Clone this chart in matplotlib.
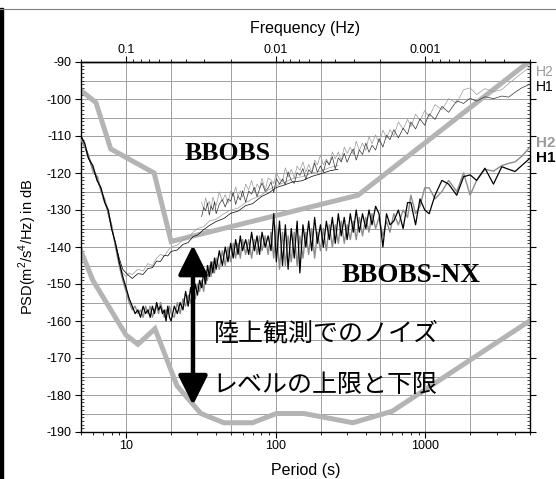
import matplotlib
matplotlib.use("Agg")
import matplotlib.pyplot as plt
import numpy as np
from matplotlib.lines import Line2D
from matplotlib.patches import Rectangle
from matplotlib.ticker import FixedLocator, MultipleLocator, NullFormatter, LogLocator

plt.rcParams['font.family'] = ['Liberation Sans', 'DejaVu Sans']
plt.rcParams['axes.unicode_minus'] = False
plt.rcParams['mathtext.fontset'] = 'custom'
plt.rcParams['mathtext.rm'] = 'Liberation Sans'

# Peterson high / low noise models
nhnm_per = [5, 6.3, 7.9, 15.4, 20, 354.8, 5000]
nhnm_db = [-97.7, -101.0, -113.5, -120.0, -138.5, -126.0, -89.7]
nlnm_per = [5, 6, 10, 12, 15.6, 21.9, 31.6, 45, 70, 101, 154, 328, 600, 5000]
nlnm_db = [-141.1, -149.0, -163.8, -166.3, -162.1, -177.5, -185.0, -187.5,
           -187.5, -185.0, -185.0, -187.5, -184.4, -159.9]

# short-period part of the BBOBS-NX spectra
per_sp = [5, 5.3, 5.6, 6, 6.4, 6.8, 7.2, 7.6, 8, 8.5, 9, 9.5, 10,
          10.5, 11, 11.5, 12, 12.5, 13, 13.5, 14, 14.5, 15, 15.5, 16, 16.5,
          17, 17.5, 18, 18.5, 19, 19.5, 20, 21, 22, 23, 24, 25, 26, 27, 28,
          29, 30, 31]
nx_h1_sp = [-110, -112, -116, -118, -122, -124, -128, -130, -135, -139, -144,
            -148, -151, -154, -156, -158, -157, -159, -156, -158, -157, -159,
            -156, -158, -155, -157, -156, -158, -157, -160, -156, -159, -160,
            -156, -158, -155, -157, -152, -156, -151, -155, -150, -153, -149]
nx_h2_sp = [-111, -113, -115, -119, -121, -125, -127, -131, -134, -140, -145,
            -149, -152, -155, -157, -156, -158, -157, -159, -156, -158, -156,
            -159, -157, -156, -158, -155, -157, -159, -157, -158, -156, -158,
            -159, -155, -158, -154, -156, -153, -155, -152, -154, -150, -152]

# long-period part (shared period grid)
per_lp = [32, 33, 34, 35, 36, 37, 38, 39, 40, 42, 44, 46, 48, 50, 52, 54, 56,
          58, 60, 63, 66, 69, 72, 75, 78, 81, 85, 89, 93, 97, 101, 106, 111,
          116, 121, 127, 133, 139, 145, 152, 159, 166, 174, 182, 190, 199, 208,
          218, 228, 239, 250, 262, 274, 287, 300, 315, 330, 345, 362, 380, 400,
          420, 440, 465, 490, 520, 550, 580, 615, 660, 710, 760, 800, 860, 920,
          990, 1060, 1160, 1290, 1430, 1620, 1800, 1990, 2200, 2500, 2850,
          3240, 3600, 3970, 4400, 5000]
nx_h1_lp = [-151, -147, -150, -145, -148, -144, -147, -143, -146, -141, -145,
            -140, -144, -139, -143, -138, -142, -137, -141, -138, -142, -136,
            -141, -137, -142, -136, -140, -137, -141, -131, -144, -133, -145,
            -134, -146, -135, -143, -133, -147, -134, -140, -133, -141, -132,
            -139, -134, -140, -133, -138, -132, -139, -131, -137, -132, -138,
            -131, -136, -130, -136, -131, -135, -130, -134, -129, -131, -140,
            -131, -134, -133, -130, -135, -128, -128, -134, -127, -130, -131,
            -126, -122, -123, -126, -121, -120.5, -122, -118.7, -123, -118.3,
            -119, -119.6, -118, -116]
nx_h2_lp = [-149, -152, -147, -149, -145, -148, -144, -147, -143, -146, -141,
            -145, -140, -144, -139, -143, -139, -143, -138, -142, -138, -143,
            -138, -142, -137, -141, -137, -142, -136, -143, -134, -146, -136,
            -145, -137, -144, -136, -145, -137, -143, -136, -142, -135, -143,
            -136, -141, -135, -141, -134, -140, -134, -139, -133, -139, -134,
            -138, -133, -138, -132, -137, -132, -136, -131, -135, -132, -137,
            -133, -136, -131, -134, -130, -132, -126, -131, -129, -124, -124,
            -127, -125, -122, -125, -120, -126, -122, -119, -119.5, -118,
            -117.4, -117, -115.5, -113]
bb_h1_lp = [-131.8, -129.3, -130.2, -128.1, -131.4, -128.9, -130.0, -127.8,
            -131.0, -128.4, -127.2, -129.2, -127.0, -127.6, -125.3, -128.5,
            -126.3, -127.3, -124.8, -127.9, -124.9, -125.7, -123.9, -126.4,
            -124.3, -122.7, -125.0, -124.1, -122.4, -125.3, -121.5, -123.0,
            -121.6, -123.2, -119.7, -122.0, -122.8, -119.9, -120.6, -118.8,
            -121.8, -119.1, -120.1, -117.3, -119.8, -118.1, -119.7, -116.7,
            -117.8, -115.6, -118.9, -115.9, -117.0, -114.7, -117.1, -115.0,
            -113.5, -116.5, -113.8, -115.0, -111.9, -114.4, -112.5, -113.8,
            -110.7, -113.0, -109.8, -111.0, -108.3, -110.5, -107.9, -109.5,
            -106.2, -108.1, -105.4, -107.1, -104.0, -105.5, -102.0, -103.6,
            -100.5, -101.2, -99.8, -100.6, -99.4, -99.9, -99.2, -99.5, -98.2,
            -97.0, -96.0]
bb_h2_lp = [-127.9, -129.8, -126.7, -128.9, -127.6, -129.7, -126.5, -127.8,
            -128.8, -125.1, -127.6, -125.8, -128.2, -124.9, -126.2, -123.8,
            -126.4, -124.8, -126.5, -123.0, -124.6, -122.0, -125.1, -123.0,
            -124.1, -121.4, -124.6, -121.4, -121.9, -122.9, -119.8, -121.7,
            -122.3, -118.6, -121.1, -119.0, -121.4, -118.1, -119.3, -117.0,
            -119.8, -117.7, -119.7, -116.5, -117.8, -115.1, -117.8, -116.2,
            -117.7, -114.3, -116.2, -114.3, -116.8, -113.0, -114.7, -113.0,
            -115.0, -111.4, -113.9, -111.9, -113.9, -110.1, -112.1, -109.7,
            -111.8, -108.4, -110.6, -108.3, -110.0, -106.2, -108.2, -105.5,
            -107.5, -104.1, -105.8, -103.1, -104.8, -101.5, -102.9, -99.9,
            -101.1, -97.5, -97.0, -98.8, -97.2, -98.0, -97.5, -95.8, -94.5,
            -93.0, -91.3]

# BBOBS long-window (smooth) spectra
per_sm = [5, 5.5, 6, 6.5, 7, 7.5, 8, 8.5, 9, 9.5, 10, 10.5, 11, 12, 13, 14, 15,
          16, 17, 18, 19, 20, 22, 24, 26, 28, 30, 33, 36, 40, 45, 50, 56, 63,
          70, 80, 90, 100, 115, 130, 150, 175, 200, 230, 260]
bb_h1_sm = [-110, -115, -119, -122.5, -126, -130, -135, -139, -143, -146, -147,
            -147.8, -148.5, -147.2, -147.4, -145.8, -145.6, -143.8, -143.9,
            -142.3, -142.4, -141.2, -140.8, -139.3, -138.8, -137.2, -136.8,
            -135.3, -134.2, -133.1, -132.3, -130.9, -130.3, -128.8, -128.3,
            -126.4, -125.4, -124, -123.2, -122.4, -122.1, -120.9, -120.2,
            -119.4, -119]
bb_h2_sm = [-111, -114, -120, -121, -127, -129, -134, -140, -144, -147, -148,
            -147, -147.5, -146, -146.5, -144.5, -145, -143, -142, -142.5, -141,
            -140, -139.5, -138, -137.5, -136, -135, -134.5, -133, -132.5, -131,
            -130, -129.5, -128, -127, -126, -124.5, -123.5, -122.5, -121.5,
            -121, -120, -119.5, -118.5, -118]

freq_ticks = [0.1, 0.01, 0.001]
freq_labels = ['0.1', '0.01', '0.001']

BLACK = '#000000'
GREY = '#9a9a9a'
MODEL = '#b4b4b4'

fig = plt.figure(figsize=(5.56, 4.79), dpi=100)
ax = fig.add_axes([81 / 556, 1 - 432 / 479, 449 / 556, 370 / 479])

ax.set_xscale('log')
ax.set_xlim(5, 5000)
ax.set_ylim(-190, -90)

# grid
for gx in [10, 20, 50, 100, 200, 500, 1000, 2000]:
    ax.axvline(gx, color='#a0a0a0', lw=0.7, zorder=0)
for gy in np.arange(-185, -90, 5):
    ax.axhline(gy, color='#a0a0a0', lw=0.7, zorder=0)

# noise models
ax.plot(nhnm_per, nhnm_db, color=MODEL, lw=3.6, solid_joinstyle='miter', zorder=2)
ax.plot(nlnm_per, nlnm_db, color=MODEL, lw=3.6, solid_joinstyle='miter', zorder=2)

# BBOBS (thin lines)
ax.plot(per_sm, bb_h2_sm, color=GREY, lw=0.5, zorder=3)
ax.plot(per_sm, bb_h1_sm, color=BLACK, lw=0.5, zorder=3)
ax.plot(per_lp, bb_h2_lp, color=GREY, lw=0.5, zorder=3)
ax.plot(per_lp, bb_h1_lp, color='#333333', lw=0.5, zorder=3)

# BBOBS-NX
ax.plot(per_sp + per_lp, nx_h2_sp + nx_h2_lp, color='#8c8c8c', lw=1.0, zorder=4)
ax.plot(per_sp + per_lp, nx_h1_sp + nx_h1_lp, color=BLACK, lw=0.9, zorder=4)

# ticks
ax.yaxis.set_major_locator(MultipleLocator(10))
ax.yaxis.set_minor_locator(MultipleLocator(1))
ax.tick_params(axis='y', which='major', direction='out', length=4, width=0.8,
               labelsize=9, pad=3, right=True)
ax.tick_params(axis='y', which='minor', direction='in', length=2, width=0.5,
               right=True)
ax.set_xticks([10, 100, 1000])
ax.set_xticklabels(['10', '100', '1000'])
ax.xaxis.set_minor_locator(LogLocator(base=10, subs=np.arange(2, 10)))
ax.xaxis.set_minor_formatter(NullFormatter())
ax.tick_params(axis='x', which='major', direction='out', length=4, width=0.8,
               labelsize=9, pad=1.5)
ax.tick_params(axis='x', which='minor', direction='out', length=2.5, width=0.6)
for sp in ax.spines.values():
    sp.set_linewidth(1.0)

ax.set_xlabel('Period (s)', fontsize=11.5, labelpad=8)
ax.set_ylabel(r'PSD(m$^\mathrm{2}$/s$^\mathrm{4}$/Hz) in dB', fontsize=10.5,
              labelpad=5)


def per2freq(x):
    x = np.asarray(x, dtype=float)
    with np.errstate(divide='ignore'):
        return 1.0 / x


secax = ax.secondary_xaxis('top', functions=(per2freq, per2freq))
secax.xaxis.set_major_locator(FixedLocator(freq_ticks))
secax.set_xticklabels(freq_labels)
secax.xaxis.set_minor_locator(LogLocator(base=10, subs=np.arange(2, 10)))
secax.xaxis.set_minor_formatter(NullFormatter())
secax.tick_params(which='major', direction='out', length=4, width=0.8,
                  labelsize=9, pad=0)
secax.tick_params(which='minor', direction='out', length=2.5, width=0.6)
secax.spines['top'].set_linewidth(1.0)
secax.set_xlabel('Frequency (Hz)', fontsize=11.5, labelpad=8)

# labels inside the plot
ax.text(24.5, -114.8, 'BBOBS', fontsize=18.5, fontweight='bold',
        family='Liberation Serif', ha='left', va='center', zorder=6)
ax.text(277, -147.8, 'BBOBS-NX', fontsize=19.5, fontweight='bold',
        family='Liberation Serif', ha='left', va='center', zorder=6)
ax.text(38.5, -163.3, '陸上観測でのノイズ', fontsize=18,
        family=['Noto Sans CJK JP', 'DejaVu Sans'], ha='left', va='center',
        zorder=6)
ax.text(37.5, -177.4, 'レベルの上限と下限', fontsize=18,
        family=['Noto Sans CJK JP', 'DejaVu Sans'], ha='left', va='center',
        zorder=6)

ax.annotate('', xy=(28, -139.5), xytext=(28, -182.7),
            arrowprops=dict(arrowstyle='<|-|>,head_length=1.5,head_width=0.75',
                            mutation_scale=12, lw=3.2, color='black',
                            shrinkA=0, shrinkB=0),
            zorder=7)

# component labels at the right edge
trans = ax.get_yaxis_transform()
ax.text(1.014, -92.6, 'H2', color=GREY, fontsize=10, transform=trans,
        ha='left', va='center', clip_on=False)
ax.text(1.014, -96.8, 'H1', color=BLACK, fontsize=10, transform=trans,
        ha='left', va='center', clip_on=False)
ax.text(1.014, -111.8, 'H2', color=GREY, fontsize=11, fontweight='bold',
        transform=trans, ha='left', va='center', clip_on=False)
ax.text(1.014, -116.0, 'H1', color=BLACK, fontsize=11, fontweight='bold',
        transform=trans, ha='left', va='center', clip_on=False)

# frame of the original picture
fig.add_artist(Rectangle((0, 0), 3 / 556, 1 - 8 / 479, color='black',
                         transform=fig.transFigure))
fig.add_artist(Line2D([0, 1], [1 - 8.5 / 479] * 2, color='#808080', lw=0.8,
                      transform=fig.transFigure))

fig.savefig('out.png', dpi=100)
